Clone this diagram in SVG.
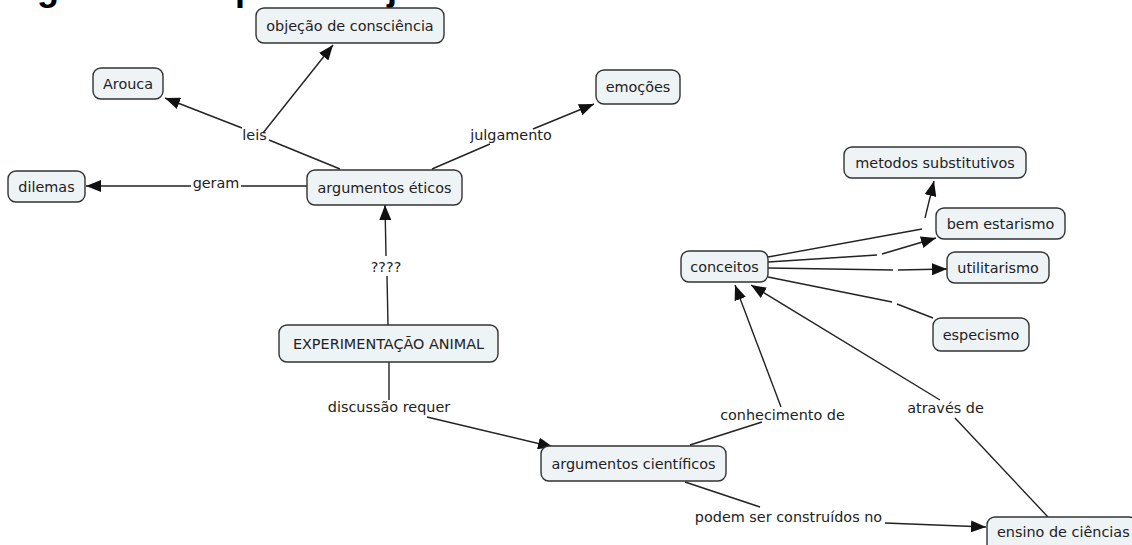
<svg xmlns="http://www.w3.org/2000/svg" width="1132" height="545" viewBox="0 0 1132 545">
<style>
.n rect{fill:#eef3f6;stroke:#333;stroke-width:1.4}
.n text,.lbl text{font-family:"DejaVu Sans",Verdana,sans-serif;font-size:14.4px;fill:#222;text-anchor:middle}
.c line{stroke:#222;stroke-width:1.4;fill:none}
.title{font-family:"Liberation Sans",Arial,sans-serif;font-weight:bold;font-size:36px;fill:#000}
</style>
<defs>
<marker id="ah" markerUnits="userSpaceOnUse" markerWidth="16" markerHeight="12" refX="15" refY="6" orient="auto">
<path d="M0,0 L15,6 L0,12 z" fill="#111"/>
</marker>
</defs>
<rect width="1132" height="545" fill="#fff"/>
<text class="title" x="5" y="0">Figura 3 – Mapa do Sujeito</text>

<g class="c" id="connectors">
<line x1="340" y1="169" x2="269" y2="140"/>
<line x1="242" y1="128" x2="165" y2="98" marker-end="url(#ah)"/>
<line x1="263" y1="133" x2="333" y2="45" marker-end="url(#ah)"/>
<line x1="307" y1="186" x2="241" y2="186"/>
<line x1="191" y1="186" x2="86" y2="186" marker-end="url(#ah)"/>
<line x1="432" y1="169" x2="490" y2="144"/>
<line x1="533" y1="129" x2="594" y2="104" marker-end="url(#ah)"/>
<line x1="388" y1="325" x2="387" y2="276"/>
<line x1="386" y1="256" x2="385" y2="205" marker-end="url(#ah)"/>
<line x1="389" y1="362" x2="389" y2="400"/>
<line x1="427" y1="417" x2="553" y2="447" marker-end="url(#ah)"/>
<line x1="690" y1="445" x2="762" y2="422"/>
<line x1="781" y1="407" x2="735" y2="285" marker-end="url(#ah)"/>
<line x1="1048" y1="517" x2="955" y2="418"/>
<line x1="940" y1="400" x2="751" y2="285" marker-end="url(#ah)"/>
<line x1="685" y1="482" x2="760" y2="507"/>
<line x1="885" y1="523" x2="986" y2="527" marker-end="url(#ah)"/>
<line x1="768" y1="257" x2="922" y2="229"/>
<line x1="925" y1="218" x2="934" y2="181" marker-end="url(#ah)"/>
<line x1="768" y1="262" x2="877" y2="255"/>
<line x1="882" y1="254" x2="936" y2="238" marker-end="url(#ah)"/>
<line x1="768" y1="268" x2="893" y2="270"/>
<line x1="898" y1="270" x2="947" y2="269" marker-end="url(#ah)"/>
<line x1="768" y1="277" x2="892" y2="302"/>
<line x1="897" y1="304" x2="933" y2="318"/>
</g>

<g class="lbl" id="labels">
<text x="254.5" y="140">leis</text>
<text x="216" y="188">geram</text>
<text x="511" y="140">julgamento</text>
<text x="386" y="272">????</text>
<text x="389" y="412">discussão requer</text>
<text x="782.5" y="420">conhecimento de</text>
<text x="945.5" y="413">através de</text>
<text x="788.5" y="522">podem ser construídos no</text>
</g>

<g class="n" id="n-objecao"><rect x="256" y="8" width="188" height="35" rx="8"/><text x="350" y="30.5">objeção de consciência</text></g>
<g class="n" id="n-arouca"><rect x="93" y="68" width="70" height="31" rx="8"/><text x="128" y="88.5">Arouca</text></g>
<g class="n" id="n-dilemas"><rect x="8" y="171" width="77" height="31" rx="8"/><text x="46.5" y="191.5">dilemas</text></g>
<g class="n" id="n-eticos"><rect x="307" y="170" width="155" height="35" rx="8"/><text x="384.5" y="192.5">argumentos éticos</text></g>
<g class="n" id="n-emocoes"><rect x="596" y="70" width="84" height="34" rx="8"/><text x="638" y="92">emoções</text></g>
<g class="n" id="n-conceitos"><rect x="681" y="251" width="87" height="31" rx="8"/><text x="724.5" y="271.5">conceitos</text></g>
<g class="n" id="n-metodos"><rect x="844" y="147" width="182" height="31" rx="8"/><text x="935" y="167.5">metodos substitutivos</text></g>
<g class="n" id="n-bem"><rect x="936" y="208" width="129" height="31" rx="8"/><text x="1000.5" y="228.5">bem estarismo</text></g>
<g class="n" id="n-util"><rect x="947" y="252" width="102" height="31" rx="8"/><text x="998" y="272.5">utilitarismo</text></g>
<g class="n" id="n-espec"><rect x="933" y="318" width="96" height="33" rx="8"/><text x="981" y="339.5">especismo</text></g>
<g class="n" id="n-exp"><rect x="279" y="325" width="219" height="37" rx="8"/><text x="388.5" y="348.5">EXPERIMENTAÇÃO ANIMAL</text></g>
<g class="n" id="n-cient"><rect x="541" y="446" width="185" height="35" rx="8"/><text x="633.5" y="468.5">argumentos científicos</text></g>
<g class="n" id="n-ensino"><rect x="987" y="517" width="150" height="40" rx="8"/><text x="997" y="537" style="text-anchor:start">ensino de ciências</text></g>
</svg>
